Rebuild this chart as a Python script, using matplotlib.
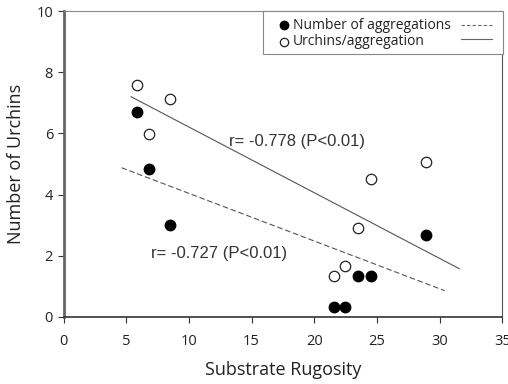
import matplotlib
matplotlib.use("Agg")
import matplotlib.pyplot as plt
from matplotlib.patches import Rectangle

# Data
agg_x = [5.88, 6.78, 8.5, 28.9, 23.5, 24.5, 21.6, 22.45]
agg_y = [6.69, 4.84, 3.0, 2.67, 1.33, 1.33, 0.32, 0.32]
urch_x = [5.88, 8.5, 6.78, 28.9, 24.5, 23.5, 22.45, 21.6]
urch_y = [7.6, 7.12, 5.99, 5.08, 4.51, 2.91, 1.66, 1.33]
# regression line endpoints
agg_fit_x = [4.63, 30.4]
agg_fit_y = [4.88, 0.86]
urch_fit_x = [5.35, 31.6]
urch_fit_y = [7.21, 1.57]
xticks = [0, 5, 10, 15, 20, 25, 30, 35]
yticks = [0, 2, 4, 6, 8, 10]

fig = plt.figure(figsize=(5.08, 3.84), dpi=100)
ax = fig.add_axes([0.125, 0.1745, 0.864, 0.7965])

ax.plot(urch_fit_x, urch_fit_y, color="#555555", lw=0.8, solid_capstyle="butt")
ax.plot(agg_fit_x, agg_fit_y, color="#555555", lw=0.8, dashes=(5, 2.5))
ax.plot(agg_x, agg_y, "o", ms=7.5, mfc="black", mec="black", ls="none")
ax.plot(urch_x, urch_y, "o", ms=7.5, mfc="white", mec="#222222", mew=0.9, ls="none")

ax.text(13.2, 5.73, "r= -0.778 (P<0.01)", fontsize=12, family="Liberation Sans",
        color="#333333", va="center", ha="left")
ax.text(6.94, 2.06, "r= -0.727 (P<0.01)", fontsize=12, family="Liberation Sans",
        color="#333333", va="center", ha="left")

ax.set_xlim(0, 35)
ax.set_ylim(0, 10)
ax.set_xticks(xticks)
ax.set_yticks(yticks)
ax.tick_params(direction="out", length=4, width=0.8, colors="#333333",
               labelsize=10.5, labelcolor="#222222")
for lab in ax.get_xticklabels() + ax.get_yticklabels():
    lab.set_family("Open Sans")
ax.tick_params(axis="x", pad=8)

ax.spines["left"].set_color("#666666")
ax.spines["left"].set_linewidth(2)
ax.spines["bottom"].set_color("#333333")
ax.spines["bottom"].set_linewidth(1.2)
ax.spines["top"].set_color("#888888")
ax.spines["top"].set_linewidth(0.8)
ax.spines["right"].set_color("#555555")
ax.spines["right"].set_linewidth(0.8)

ax.set_xlabel("Substrate Rugosity", fontsize=13, family="Open Sans", labelpad=9, color="#222222")
ax.set_ylabel("Number of Urchins", fontsize=13, family="Open Sans", labelpad=8, color="#222222")

# Legend drawn manually (markers, text, then line samples)
ax.add_patch(Rectangle((0.454, 0.859), 0.548, 0.141, transform=ax.transAxes,
                       fill=True, facecolor="white", edgecolor="#888888", lw=0.8,
                       clip_on=False, zorder=5))
ax.plot([0.502], [0.954], "o", ms=6, mfc="black", mec="black", transform=ax.transAxes,
        clip_on=False, zorder=6)
ax.plot([0.502], [0.900], "o", ms=6, mfc="white", mec="#222222", mew=0.9,
        transform=ax.transAxes, clip_on=False, zorder=6)
ax.text(0.522, 0.954, "Number of aggregations", transform=ax.transAxes, fontsize=10,
        family="Open Sans", va="center", ha="left", color="#222222", zorder=6)
ax.text(0.522, 0.900, "Urchins/aggregation", transform=ax.transAxes, fontsize=10,
        family="Open Sans", va="center", ha="left", color="#222222", zorder=6)
ax.plot([0.905, 0.976], [0.954, 0.954], color="#666666", lw=0.8, dashes=(3, 2),
        transform=ax.transAxes, clip_on=False, zorder=6)
ax.plot([0.905, 0.976], [0.910, 0.910], color="#666666", lw=0.8,
        transform=ax.transAxes, clip_on=False, zorder=6)

fig.savefig("out.png", dpi=100)
